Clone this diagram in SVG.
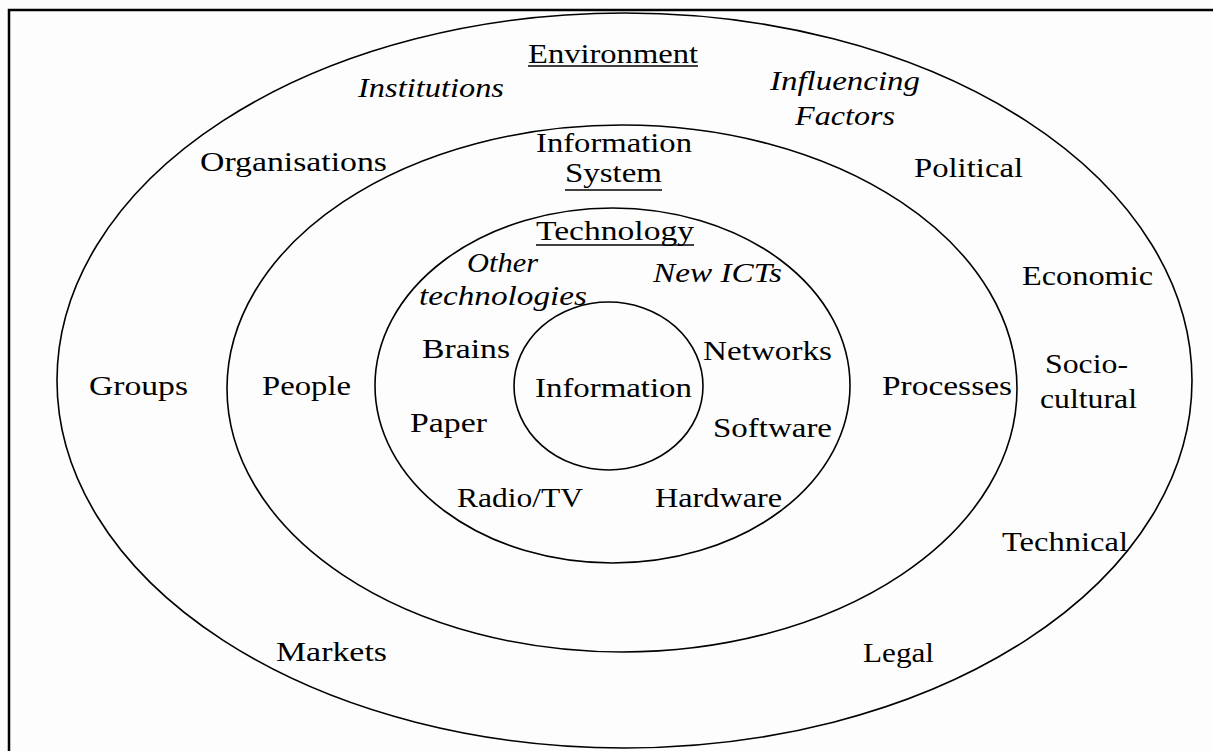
<svg xmlns="http://www.w3.org/2000/svg" width="1213" height="751" viewBox="0 0 1213 751">
  <style>
    .ring { fill: none; stroke: #000; stroke-width: 1.6; }
    .frame { fill: none; stroke: #000; stroke-width: 2.5; }
    .rule { stroke: #000; stroke-width: 1.6; }
    text { font-family: "Liberation Serif", "Times New Roman", serif; font-size: 27px; fill: #000; }
    .it { font-style: italic; }
  </style>
  <rect x="0" y="0" width="1213" height="751" fill="#fdfdfd"/>
  <!-- outer frame, open at right and bottom -->
  <rect class="frame" x="9" y="10" width="1220" height="760"/>

  <g id="environment">
    <ellipse class="ring" cx="624.5" cy="380.5" rx="567.5" ry="367.5"/>
    <text x="528" y="63" textLength="170" lengthAdjust="spacingAndGlyphs">Environment</text>
    <line class="rule" x1="528" y1="66" x2="698" y2="66"/>
    <text class="it" x="358" y="97" textLength="146" lengthAdjust="spacingAndGlyphs">Institutions</text>
    <text class="it" x="770" y="90" textLength="150" lengthAdjust="spacingAndGlyphs">Influencing</text>
    <text class="it" x="795" y="125" textLength="100" lengthAdjust="spacingAndGlyphs">Factors</text>
    <text x="200" y="171" textLength="187" lengthAdjust="spacingAndGlyphs">Organisations</text>
    <text x="914" y="177" textLength="109" lengthAdjust="spacingAndGlyphs">Political</text>
    <text x="1022" y="285" textLength="131" lengthAdjust="spacingAndGlyphs">Economic</text>
    <text x="89" y="395" textLength="99" lengthAdjust="spacingAndGlyphs">Groups</text>
    <text x="1045" y="373" textLength="83" lengthAdjust="spacingAndGlyphs">Socio-</text>
    <text x="1040" y="408" textLength="97" lengthAdjust="spacingAndGlyphs">cultural</text>
    <text x="1002" y="551" textLength="126" lengthAdjust="spacingAndGlyphs">Technical</text>
    <text x="276" y="661" textLength="111" lengthAdjust="spacingAndGlyphs">Markets</text>
    <text x="863" y="662" textLength="71" lengthAdjust="spacingAndGlyphs">Legal</text>
  </g>

  <g id="information-system">
    <ellipse class="ring" cx="622" cy="388.5" rx="395" ry="263.5"/>
    <text x="536" y="152" textLength="156" lengthAdjust="spacingAndGlyphs">Information</text>
    <text x="565" y="182" textLength="97" lengthAdjust="spacingAndGlyphs">System</text>
    <line class="rule" x1="565" y1="190" x2="662" y2="190"/>
    <text x="262" y="395" textLength="89" lengthAdjust="spacingAndGlyphs">People</text>
    <text x="882" y="395" textLength="130" lengthAdjust="spacingAndGlyphs">Processes</text>
  </g>

  <g id="technology">
    <ellipse class="ring" cx="612.5" cy="385.5" rx="237.5" ry="177.5"/>
    <text x="536" y="240" textLength="158" lengthAdjust="spacingAndGlyphs">Technology</text>
    <line class="rule" x1="536" y1="245" x2="694" y2="245"/>
    <text class="it" x="467" y="272" textLength="71" lengthAdjust="spacingAndGlyphs">Other</text>
    <text class="it" x="419" y="305" textLength="168" lengthAdjust="spacingAndGlyphs">technologies</text>
    <text class="it" x="653" y="282" textLength="129" lengthAdjust="spacingAndGlyphs">New ICTs</text>
    <text x="422" y="358" textLength="88" lengthAdjust="spacingAndGlyphs">Brains</text>
    <text x="703" y="360" textLength="129" lengthAdjust="spacingAndGlyphs">Networks</text>
    <text x="410" y="432" textLength="77" lengthAdjust="spacingAndGlyphs">Paper</text>
    <text x="713" y="437" textLength="119" lengthAdjust="spacingAndGlyphs">Software</text>
    <text x="457" y="507" textLength="126" lengthAdjust="spacingAndGlyphs">Radio/TV</text>
    <text x="655" y="507" textLength="127" lengthAdjust="spacingAndGlyphs">Hardware</text>
  </g>

  <g id="information">
    <ellipse class="ring" cx="608.5" cy="386" rx="94.5" ry="84"/>
    <text x="535" y="397" textLength="157" lengthAdjust="spacingAndGlyphs">Information</text>
  </g>
</svg>
